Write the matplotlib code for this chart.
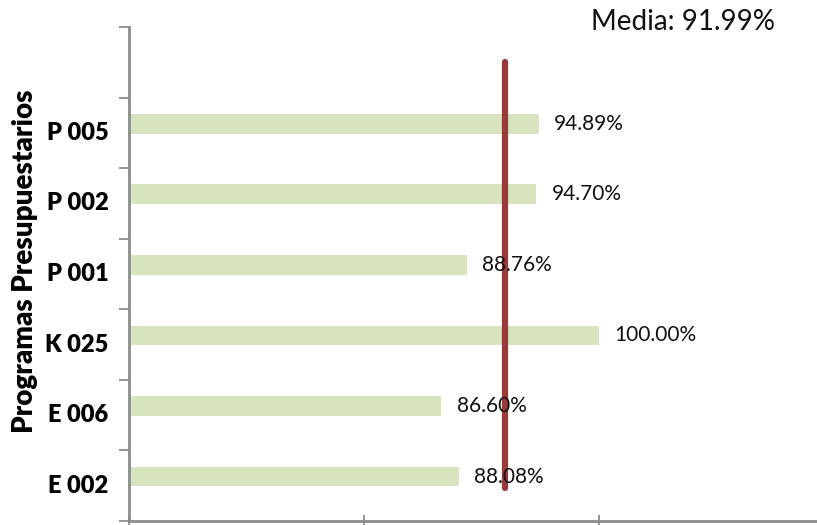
import matplotlib.pyplot as plt

# -----------------------------
# Data
# -----------------------------
programas = ["E 002", "E 006", "K 025", "P 001", "P 002", "P 005"]
avance = [88.08, 86.60, 100.00, 88.76, 94.70, 94.89]
media = 91.99

BAR_COLOR = "#D7E4BD"
LINE_COLOR = "#983A3A"
AXIS_COLOR = "#8C8C8C"
FONT = ["Lato", "DejaVu Sans"]

plt.rcParams["font.family"] = FONT

# -----------------------------
# Figure
# -----------------------------
fig = plt.figure(figsize=(8.17, 5.25), dpi=100)
ax = fig.add_axes([129 / 817, 4 / 525, 1 - 129 / 817, 494 / 525])

ypos = list(range(len(programas)))
bar_y = [y + 0.13 for y in ypos]
ax.barh(bar_y, [v - 60 for v in avance], left=60, height=0.28,
        color=BAR_COLOR, zorder=2)

# data labels
for y, v in zip(bar_y, avance):
    ax.text(v + 1.3, y, f"{v:.2f}%", va="center", ha="left",
            fontsize=15, color="#111111", zorder=4)

# mean line
ax.plot([media, media], [-0.03, 6.0], color=LINE_COLOR, lw=4.5,
        solid_capstyle="round", zorder=3)
fig.text(683 / 817, 1 - 22 / 525, f"Media: {media:.2f}%", ha="center",
         va="center", fontsize=20, color="#111111")

# -----------------------------
# Axes styling
# -----------------------------
ax.set_xlim(60, 118.6)
ax.set_ylim(-0.5, 6.5)
ax.set_xticks([60, 80, 100])
ax.set_xticklabels([])
ax.set_yticks([y - 0.5 for y in range(len(programas) + 2)])
ax.set_yticklabels([])
ax.tick_params(axis="y", direction="out", length=7, width=1.3, color=AXIS_COLOR)
ax.tick_params(axis="x", direction="inout", length=9, width=1.3, color=AXIS_COLOR)

for side in ["top", "right"]:
    ax.spines[side].set_visible(False)
for side in ["left", "bottom"]:
    ax.spines[side].set_color(AXIS_COLOR)
    ax.spines[side].set_linewidth(2)

for y, name in zip(ypos, programas):
    ax.text(-0.03, y, name, transform=ax.get_yaxis_transform(),
            ha="right", va="center", fontsize=17, fontweight="heavy")

fig.text(25 / 817, 1 - 261 / 525, "Programas Presupuestarios", rotation=90,
         ha="center", va="center", fontsize=20, fontweight="heavy")

fig.savefig("out.png", dpi=100)
